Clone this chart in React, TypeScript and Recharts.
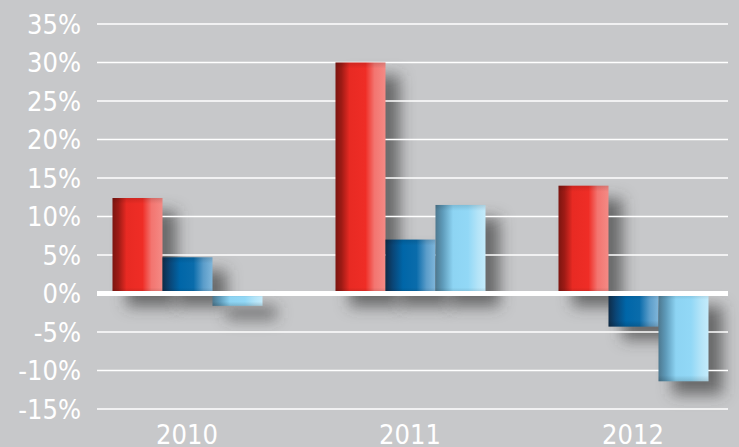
import React from 'react';
import { BarChart, Bar, XAxis, YAxis, CartesianGrid, ReferenceLine } from 'recharts';

const years = ['2010', '2011', '2012'];
const redValues = [12.4, 30.0, 14.0];
const blueValues = [4.7, 7.0, -4.3];
const lightBlueValues = [-1.6, 11.5, -11.4];
const yTicks = [-15, -10, -5, 0, 5, 10, 15, 20, 25, 30, 35];

const data = years.map((year, i) => ({
  year,
  red: redValues[i],
  blue: blueValues[i],
  light: lightBlueValues[i],
}));

const FONT = "'DejaVu Sans Condensed', 'DejaVu Sans', Verdana, sans-serif";

const norm = (p: any) => {
  const { x, y, width, height } = p;
  const h = Math.abs(height || 0);
  const top = height < 0 ? y + height : y;
  return { x, top, width, h };
};

const makeBar = (id: string) => (props: any) => {
  const { x, top, width, h } = norm(props);
  if (!h) return <g />;
  const rim = Math.min(6, h / 3);
  return (
    <g>
      <rect x={x} y={top} width={width} height={h} fill={`url(#${id})`} />
      <rect x={x} y={top} width={width} height={rim} fill="url(#rim-top)" />
      <rect x={x} y={top + h - rim} width={width} height={rim} fill="url(#rim-bottom)" />
    </g>
  );
};

const ShadowShape = (props: any) => {
  const { x, top, width, h } = norm(props);
  if (!h) return <g />;
  return (
    <rect
      x={x + 14}
      y={top + 13}
      width={width}
      height={h}
      fill="#404040"
      fillOpacity={0.7}
      filter="url(#bar-shadow)"
    />
  );
};

const RedBar = makeBar('g-red');
const BlueBar = makeBar('g-blue');
const LightBar = makeBar('g-light');

export default function App() {
  const pad = { left: -21.5, right: -16.5 };
  return (
    <div style={{ position: 'absolute', left: 0, top: 0, width: 739, height: 447, background: '#c7c8ca', overflow: 'hidden' }}>
      <svg width={0} height={0} style={{ position: 'absolute' }}>
        <defs>
          <linearGradient id="g-red" x1="0" y1="0" x2="1" y2="0">
            <stop offset="0" stopColor="#7c1510" />
            <stop offset="0.12" stopColor="#9e1b15" />
            <stop offset="0.28" stopColor="#e82a23" />
            <stop offset="0.6" stopColor="#ef2d26" />
            <stop offset="0.78" stopColor="#f37570" />
            <stop offset="1" stopColor="#f48a85" />
          </linearGradient>
          <linearGradient id="g-blue" x1="0" y1="0" x2="1" y2="0">
            <stop offset="0" stopColor="#0f2c48" />
            <stop offset="0.15" stopColor="#0a4677" />
            <stop offset="0.35" stopColor="#0066a8" />
            <stop offset="0.62" stopColor="#0a6cab" />
            <stop offset="0.82" stopColor="#5b9dca" />
            <stop offset="1" stopColor="#80b6da" />
          </linearGradient>
          <linearGradient id="g-light" x1="0" y1="0" x2="1" y2="0">
            <stop offset="0" stopColor="#4d788f" />
            <stop offset="0.15" stopColor="#5f9cbb" />
            <stop offset="0.35" stopColor="#8dd4f3" />
            <stop offset="0.65" stopColor="#92d8f6" />
            <stop offset="0.85" stopColor="#b4e4f8" />
            <stop offset="1" stopColor="#c4ebfb" />
          </linearGradient>
          <linearGradient id="rim-top" x1="0" y1="0" x2="0" y2="1">
            <stop offset="0" stopColor="#000" stopOpacity="0.12" />
            <stop offset="1" stopColor="#000" stopOpacity="0" />
          </linearGradient>
          <linearGradient id="rim-bottom" x1="0" y1="0" x2="0" y2="1">
            <stop offset="0" stopColor="#000" stopOpacity="0" />
            <stop offset="1" stopColor="#000" stopOpacity="0.15" />
          </linearGradient>
          <filter id="bar-shadow" filterUnits="userSpaceOnUse" x="0" y="0" width="739" height="447">
            <feGaussianBlur stdDeviation="7.5" />
          </filter>
        </defs>
      </svg>
      <BarChart
        width={739}
        height={447}
        data={data}
        margin={{ top: 24, right: 11, bottom: 0, left: 0 }}
        barSize={50}
        barGap={0}
      >
        <XAxis
          dataKey="year"
          axisLine={false}
          tickLine={false}
          tickSize={0}
          tickMargin={16}
          height={38}
          interval={0}
          padding={pad}
          tick={{ fill: '#ffffff', fontSize: 27, fontFamily: FONT }}
        />
        <XAxis xAxisId="s" dataKey="year" hide padding={pad} />
        <YAxis
          domain={[-15, 35]}
          ticks={yTicks}
          interval={0}
          axisLine={false}
          tickLine={false}
          tickSize={0}
          tickMargin={16}
          width={97}
          tickFormatter={(v: number) => `${v}%`}
          tick={{ fill: '#ffffff', fontSize: 27, fontFamily: FONT }}
        />
        <Bar xAxisId="s" dataKey="red" shape={ShadowShape} isAnimationActive={false} zIndex={-200} />
        <Bar xAxisId="s" dataKey="blue" shape={ShadowShape} isAnimationActive={false} zIndex={-200} />
        <Bar xAxisId="s" dataKey="light" shape={ShadowShape} isAnimationActive={false} zIndex={-200} />
        <CartesianGrid vertical={false} stroke="#ffffff" strokeWidth={1.5} />
        <Bar dataKey="red" shape={RedBar} isAnimationActive={false} />
        <Bar dataKey="blue" shape={BlueBar} isAnimationActive={false} />
        <Bar dataKey="light" shape={LightBar} isAnimationActive={false} />
        <ReferenceLine y={0} stroke="#ffffff" strokeWidth={5} zIndex={1000} />
      </BarChart>
    </div>
  );
}
